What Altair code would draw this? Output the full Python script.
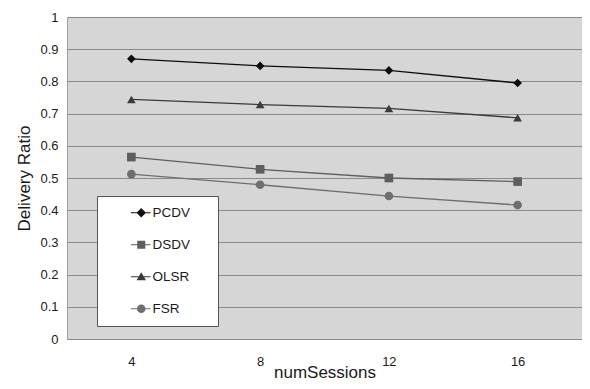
import altair as alt
import pandas as pd

sessions = ["4", "8", "12", "16"]
series = ["PCDV", "DSDV", "OLSR", "FSR"]
pcdv = [0.870, 0.848, 0.834, 0.795]
dsdv = [0.565, 0.527, 0.500, 0.489]
olsr = [0.744, 0.728, 0.716, 0.687]
fsr = [0.512, 0.479, 0.444, 0.416]

colors = ["#0d0d0d", "#5e5e5e", "#3a3a3a", "#6e6e6e"]
shapes = ["diamond", "square", "triangle-up", "circle"]

line_seg = "M-2.3,-0.13H2.05V0.13H-2.3Z"
legend_paths = [
    line_seg + "M0,-1.05L1.05,0L0,1.05L-1.05,0Z",
    line_seg + "M-0.9,-0.9H0.9V0.9H-0.9Z",
    line_seg + "M0,-1L1.05,0.8L-1.05,0.8Z",
    line_seg + "M-0.95,0A0.95,0.95 0 1,1 0.95,0A0.95,0.95 0 1,1 -0.95,0Z",
]

rows = []
for name, vals in zip(series, [pcdv, dsdv, olsr, fsr]):
    for s, v in zip(sessions, vals):
        rows.append({"series": name, "sessions": s, "ratio": v})
df = pd.DataFrame(rows)

FONT = "Liberation Sans"

x = alt.X(
    "sessions:O",
    sort=sessions,
    title="numSessions",
    axis=alt.Axis(
        labelAngle=0,
        labelFontSize=13,
        labelPadding=16,
        titleFontSize=17,
        titleFontWeight="normal",
        titleBaseline="alphabetic",
        titleY=38,
        ticks=False,
        domain=False,
        labelColor="#1a1a1a",
        titleColor="#1a1a1a",
    ),
)
y = alt.Y(
    "ratio:Q",
    title="Delivery Ratio",
    scale=alt.Scale(domain=[0, 1], nice=False),
    axis=alt.Axis(
        values=[i / 10 for i in range(11)],
        format=".1~f",
        labelFontSize=13,
        labelPadding=9,
        titleFontSize=17,
        titleFontWeight="normal",
        titlePadding=6,
        ticks=False,
        domain=False,
        gridColor="#8a8a8a",
        gridWidth=1,
        labelColor="#1a1a1a",
        titleColor="#1a1a1a",
    ),
)

legend_def = alt.Legend(
    title=".",
    titleColor="white",
    titleFontSize=8,
    titleOrient="right",
    titlePadding=15,
    orient="none",
    legendX=30,
    legendY=179,
    fillColor="white",
    strokeColor="#555555",
    padding=10,
    rowPadding=17,
    symbolSize=81,
    symbolOffset=27.5,
    labelOffset=4.5,
    symbolOpacity=1,
    symbolStrokeWidth=0,
    labelFontSize=13.5,
    labelFont=FONT,
    labelColor="#1a1a1a",
)

color_plain = alt.Color(
    "series:N",
    scale=alt.Scale(domain=series, range=colors),
    sort=series,
    legend=None,
)

lines = alt.Chart(df).mark_line(strokeWidth=1.3).encode(
    x=x, y=y, color=color_plain, detail="series:N"
)

points = alt.Chart(df).mark_point(filled=True, opacity=1, size=75).encode(
    x=x,
    y=y,
    color=color_plain,
    shape=alt.Shape(
        "series:N", scale=alt.Scale(domain=series, range=shapes), legend=None
    ),
)

legend_layer = alt.Chart(df).mark_point(filled=True, opacity=0, size=75).encode(
    x=x,
    y=y,
    color=alt.Color(
        "series:N",
        scale=alt.Scale(domain=series, range=colors),
        sort=series,
        legend=legend_def,
    ),
    shape=alt.Shape(
        "series:N",
        scale=alt.Scale(domain=series, range=legend_paths),
        sort=series,
        legend=legend_def,
    ),
)

chart = (
    alt.layer(lines, points, legend_layer)
    .resolve_scale(shape="independent", color="independent")
    .resolve_legend(shape="independent", color="independent")
    .properties(
        width=515,
        height=322,
        padding={"left": 59, "top": 9, "right": 0, "bottom": 42},
        autosize=alt.AutoSizeParams(type="none"),
        background="white",
    )
    .configure_view(fill="#d6d6d6", stroke="#a0a0a0", strokeWidth=1)
    .configure_axis(labelFont=FONT, titleFont=FONT)
    .configure_legend(labelFont=FONT)
)

chart.save("out.html", embed_options={"renderer": "svg", "actions": False})
